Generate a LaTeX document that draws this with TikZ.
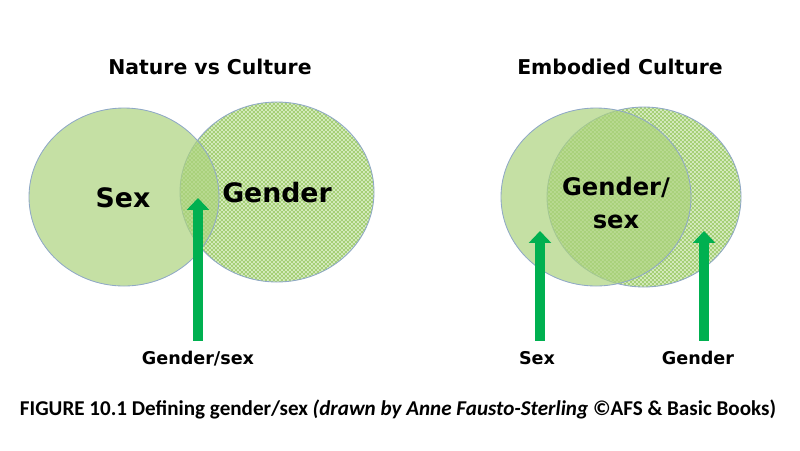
\documentclass[tikz,border=0pt]{standalone}
\usepackage{fontspec}
\setmainfont{DejaVu Sans}
\newfontfamily\capfont{Carlito}
\usetikzlibrary{arrows.meta,patterns.meta}

\definecolor{sexgreen}{HTML}{ACD37E}
\definecolor{checklight}{HTML}{D5EBBE}
\definecolor{checkdark}{HTML}{A5CF76}
\definecolor{rimblue}{HTML}{8FA8C6}
\definecolor{arrowgreen}{HTML}{00B050}

\tikzdeclarepattern{
	name=fine checks,
	type=uncolored,
	bottom left={(0pt,0pt)},
	top right={(2.8346pt,2.8346pt)},
	tile size={(2.8346pt,2.8346pt)},
	code={
		\pgfpathrectangle{\pgfpointorigin}{\pgfqpoint{1.4173pt}{1.4173pt}}
		\pgfpathrectangle{\pgfqpoint{1.4173pt}{1.4173pt}}{\pgfqpoint{1.4173pt}{1.4173pt}}
		\pgfusepath{fill}
	}
}

\tikzset{
	rim/.style={draw=rimblue, line width=0.6pt},
	sexfill/.style={fill=sexgreen, fill opacity=0.7},
	uparrow/.style={arrowgreen, line width=7.8pt, -{Triangle[width=15.6pt,length=8.5pt]}, shorten <=4pt},
	heading/.style={font=\bfseries\fontsize{14.5}{17}\selectfont},
	biglabel/.style={font=\bfseries\fontsize{19}{23.4}\selectfont, align=center},
	smalllabel/.style={font=\bfseries\fontsize{12.5}{15}\selectfont}
}

\newcommand{\genderdisc}[3]{% centre x, centre y, x radius
	\fill[checklight] (#1,#2) ellipse [x radius=#3, y radius=90];
	\fill[pattern=fine checks, pattern color=checkdark] (#1,#2) ellipse [x radius=#3, y radius=90];
	\draw[rim] (#1,#2) ellipse [x radius=#3, y radius=90];
}

\begin{document}
\begin{tikzpicture}[x=0.025cm, y=-0.025cm]
	\useasboundingbox (0,0) rectangle (800,450);
	% Nature vs Culture
	\node[heading] (natTitle) at (210,67) {Nature vs Culture};
	\genderdisc{277}{192}{97}
	\filldraw[sexfill, draw=rimblue, line width=0.6pt, draw opacity=1] (124,197) ellipse [x radius=95, y radius=89];
	\node[biglabel] (sexL) at (123,198) {Sex};
	\node[biglabel] (genderL) at (277,193) {Gender};
	\coordinate (tipL) at (198,198);
	\node[smalllabel] (gsL) at (198,359) {Gender/sex};
	\draw[uparrow] (gsL.north -| tipL) -- (tipL);

	% Embodied Culture
	\node[heading] (embTitle) at (620,67) {Embodied Culture};
	\genderdisc{644}{197}{97}
	\filldraw[sexfill, draw=rimblue, line width=0.6pt, draw opacity=1] (596,197) ellipse [x radius=95, y radius=89];
	\node[biglabel, font=\bfseries\fontsize{17.2}{23.4}\selectfont] (gsR) at (616,203) {Gender/\\sex};
	\coordinate (tipS) at (540,231);
	\coordinate (tipG) at (704,231);
	\node[smalllabel] (sexR) at (537,358) {Sex};
	\node[smalllabel] (genderR) at (698,358) {Gender};
	\draw[uparrow] (sexR.north -| tipS) -- (tipS);
	\draw[uparrow] (genderR.north -| tipG) -- (tipG);

	% caption
	\node[font=\capfont\bfseries\fontsize{15}{17}\selectfont] (caption) at (398,409)
		{FIGURE 10.1 Defining gender/sex \textit{(drawn by Anne Fausto-Sterling} ©AFS \& Basic Books)};
\end{tikzpicture}
\end{document}
